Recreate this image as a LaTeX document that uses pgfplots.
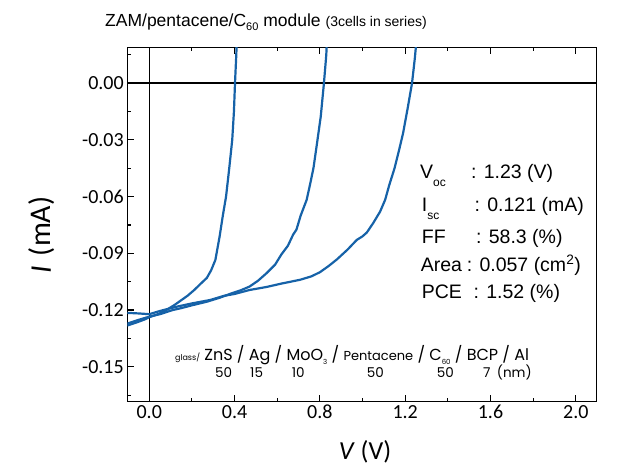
\documentclass[border=0pt]{standalone}
\usepackage{fontspec}
\setmainfont{Liberation Sans}
\newfontfamily\carlito{Carlito}
\newfontfamily\popp{Poppins}
\usepackage{pgfplots}
\pgfplotsset{compat=1.18}
\definecolor{curve}{RGB}{22,98,168}

\pgfplotstableread{
V I
-0.103 -0.1282
-0.06 -0.1266
-0.02 -0.1249
0.00 -0.1238
0.04 -0.1222
0.08 -0.1200
0.12 -0.1172
0.15 -0.1148
0.18 -0.1124
0.21 -0.1095
0.24 -0.1062
0.27 -0.1030
0.29 -0.0990
0.31 -0.0935
0.33 -0.0810
0.345 -0.0700
0.36 -0.0600
0.375 -0.0450
0.389 -0.0300
0.397 -0.0150
0.402 0.0000
0.408 0.0150
0.413 0.0300
}\cellA

\pgfplotstableread{
V I
-0.103 -0.1272
-0.05 -0.1252
0.00 -0.1235
0.05 -0.1222
0.11 -0.1200
0.15 -0.1190
0.20 -0.1175
0.27 -0.1156
0.33 -0.1135
0.39 -0.1110
0.43 -0.1095
0.47 -0.1076
0.51 -0.1045
0.55 -0.1005
0.59 -0.0960
0.62 -0.0905
0.65 -0.0860
0.675 -0.0800
0.69 -0.0775
0.71 -0.0700
0.738 -0.0617
0.755 -0.0530
0.77 -0.0448
0.785 -0.0330
0.804 -0.0177
0.819 0.0000
0.830 0.0150
0.836 0.0300
}\cellB

\pgfplotstableread{
V I
-0.103 -0.1215
-0.05 -0.1218
0.00 -0.1222
0.05 -0.1205
0.13 -0.1182
0.20 -0.1165
0.285 -0.1147
0.35 -0.1125
0.40 -0.1115
0.47 -0.1094
0.55 -0.1078
0.62 -0.1060
0.707 -0.1040
0.76 -0.1022
0.80 -0.1000
0.84 -0.0968
0.88 -0.0932
0.93 -0.0880
0.973 -0.0829
1.00 -0.0810
1.02 -0.0790
1.05 -0.0740
1.082 -0.0680
1.106 -0.0617
1.125 -0.0540
1.15 -0.0450
1.17 -0.0360
1.19 -0.0265
1.212 -0.0130
1.232 0.0000
1.245 0.0130
1.255 0.0250
}\cellC

\begin{document}
\begin{tikzpicture}
\begin{axis}[
  scale only axis, width=469.4pt, height=354.4pt,
  xmin=-0.103, xmax=2.098, ymin=-0.1685, ymax=0.019,
  axis line style={line width=1.3pt},
  xtick={0,0.4,0.8,1.2,1.6,2.0},
  minor xtick={0.2,0.6,1.0,1.4,1.8},
  ytick={-0.15,-0.12,-0.09,-0.06,-0.03,0},
  minor ytick={-0.165,-0.135,-0.105,-0.075,-0.045,-0.015,0.015},
  xtick pos=both, ytick pos=left, xticklabel pos=bottom,
  tick align=inside,
  major tick length=7pt, minor tick length=4pt,
  tick style={black, line width=1.1pt},
  tick label style={font=\carlito\fontsize{20}{20}\selectfont},
  /pgf/number format/assume math mode=true,
  xticklabel style={/pgf/number format/.cd, fixed, fixed zerofill, precision=1},
  yticklabel style={/pgf/number format/.cd, fixed, fixed zerofill, precision=2},
]
\draw[black, line width=1.8pt] (axis cs:-0.103,0) -- (axis cs:2.098,0);
\draw[black, line width=1.0pt] (axis cs:0,-0.1685) -- (axis cs:0,0.019);
\addplot[curve, line width=2.2pt] table[x=V, y=I] {\cellA};
\addplot[curve, line width=2.2pt] table[x=V, y=I] {\cellB};
\addplot[curve, line width=2.2pt] table[x=V, y=I] {\cellC};
\coordinate (tl) at (rel axis cs:0,1);
\end{axis}
\coordinate (O) at ([xshift=-127.3pt,yshift=47.3pt]tl);
\begin{scope}[shift={(O)}, x=1pt, y=-1pt, every node/.style={inner sep=0pt}]
  % title
  \node[anchor=base west, font=\fontsize{17.5}{17.5}\selectfont] at (105,27)
    {ZAM/pentacene/C\raisebox{-4pt}{\fontsize{11}{11}\selectfont 60} module {\fontsize{14}{14}\selectfont (3cells in series)}};
  % axis labels
  \node[rotate=90, font=\carlito\fontsize{30}{30}\selectfont] at (42,235) {\textit{I}\hspace{3pt} (mA)};
  \node[font=\carlito\fontsize{26}{26}\selectfont] at (365,452) {\textit{V} (V)};
  % parameters
  \begin{scope}[every node/.append style={font=\fontsize{19.5}{19.5}\selectfont, anchor=base west}]
    \node at (420,178.3) {V\raisebox{-8pt}{\fontsize{12}{12}\selectfont oc}};
    \node at (471,178.3) {: 1.23 (V)};
    \node at (421.7,211.7) {I\raisebox{-8pt}{\fontsize{12}{12}\selectfont sc}};
    \node at (474.5,211.7) {: 0.121 (mA)};
    \node at (421.7,243.3) {FF};
    \node at (476,243.3) {: 58.3 (\%)};
    \node at (420.7,271.7) {Area};
    \node at (466.7,271.7) {: 0.057 (cm\textsuperscript{2})};
    \node at (421.7,298.3) {PCE};
    \node at (473.5,298.3) {: 1.52 (\%)};
  \end{scope}
  % layer structure
  \node[anchor=base west, font=\popp\fontsize{16}{16}\selectfont] at (175,360.5)
    {{\fontsize{8}{8}\selectfont glass/} ZnS / Ag / MoO\raisebox{-3.5pt}{\fontsize{7}{7}\selectfont 3} / {\fontsize{13}{13}\selectfont Pentacene} / C\raisebox{-3.5pt}{\fontsize{7}{7}\selectfont 60} / BCP / Al};
  \begin{scope}[every node/.append style={font=\popp\fontsize{13.5}{13.5}\selectfont, anchor=base west}]
    \node at (215,377.3) {50};
    \node at (250,377.3) {15};
    \node at (291.7,377.3) {10};
    \node at (366.7,377.3) {50};
    \node at (436.7,377.3) {50};
    \node at (483,377.3) {7};
    \node at (496.7,377.3) {(nm)};
  \end{scope}
\end{scope}
\pgfresetboundingbox
\path[use as bounding box] (O) rectangle ([xshift=636pt,yshift=-471pt]O);
\end{tikzpicture}
\end{document}
